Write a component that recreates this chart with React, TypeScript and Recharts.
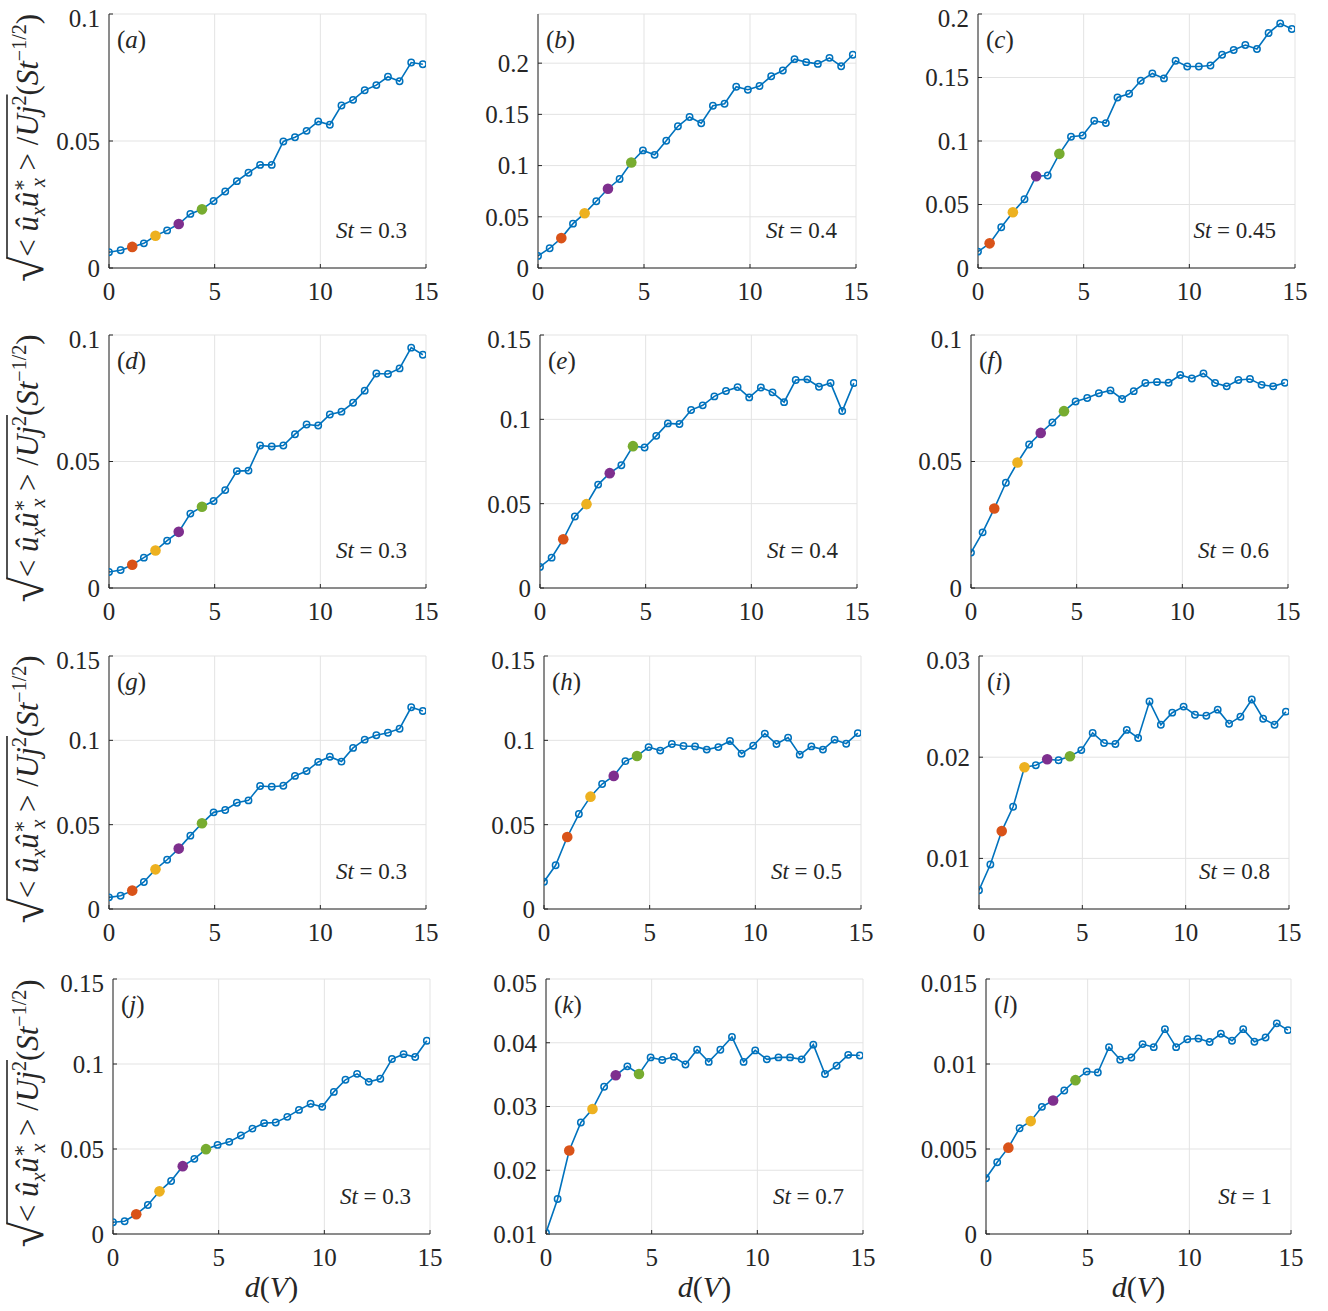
import React, { useLayoutEffect, useRef, useState } from 'react';
import { LineChart, Line, XAxis, YAxis, CartesianGrid } from 'recharts';

// d(V) positions, shared by every panel
const dV = [0, 0.55, 1.1, 1.65, 2.2, 2.75, 3.3, 3.85, 4.4, 4.95, 5.5, 6.05, 6.6, 7.15, 7.7, 8.25, 8.8, 9.35, 9.9, 10.45, 11, 11.55, 12.1, 12.65, 13.2, 13.75, 14.3, 14.85];

const aVals = [0.0062, 0.0070, 0.0083, 0.0097, 0.0127, 0.0148, 0.0173, 0.0213, 0.0231, 0.0264, 0.0301, 0.0342, 0.0375, 0.0406, 0.0406, 0.0498, 0.0515, 0.0540, 0.0577, 0.0564, 0.0640, 0.0662, 0.0700, 0.0720, 0.0753, 0.0735, 0.0809, 0.0802];
const bVals = [0.0118, 0.0193, 0.0292, 0.0433, 0.0534, 0.0652, 0.0774, 0.0869, 0.1030, 0.1148, 0.1105, 0.1243, 0.1384, 0.1475, 0.1413, 0.1584, 0.1603, 0.1770, 0.1741, 0.1777, 0.1872, 0.1928, 0.2039, 0.2010, 0.1993, 0.2052, 0.1970, 0.2082];
const cVals = [0.0129, 0.0194, 0.0321, 0.0439, 0.0541, 0.0723, 0.0728, 0.0899, 0.1033, 0.1043, 0.1159, 0.1141, 0.1343, 0.1372, 0.1474, 0.1532, 0.1493, 0.1632, 0.1587, 0.1587, 0.1595, 0.1679, 0.1716, 0.1756, 0.1724, 0.1850, 0.1926, 0.1882];
const dVals = [0.0063, 0.0071, 0.0092, 0.0120, 0.0148, 0.0187, 0.0222, 0.0294, 0.0321, 0.0344, 0.0387, 0.0462, 0.0464, 0.0563, 0.0559, 0.0563, 0.0608, 0.0646, 0.0642, 0.0686, 0.0697, 0.0732, 0.0780, 0.0848, 0.0846, 0.0868, 0.0950, 0.0922];
const eVals = [0.0125, 0.0180, 0.0289, 0.0424, 0.0497, 0.0613, 0.0681, 0.0728, 0.0841, 0.0833, 0.0902, 0.0976, 0.0972, 0.1055, 0.1083, 0.1136, 0.1168, 0.1191, 0.1130, 0.1189, 0.1160, 0.1102, 0.1233, 0.1237, 0.1193, 0.1215, 0.1049, 0.1215];
const fVals = [0.0140, 0.0220, 0.0314, 0.0416, 0.0496, 0.0567, 0.0613, 0.0654, 0.0699, 0.0737, 0.0751, 0.0770, 0.0781, 0.0747, 0.0778, 0.0810, 0.0814, 0.0811, 0.0842, 0.0828, 0.0848, 0.0810, 0.0797, 0.0822, 0.0826, 0.0803, 0.0797, 0.0811];
const gVals = [0.0069, 0.0079, 0.0109, 0.0160, 0.0235, 0.0292, 0.0358, 0.0435, 0.0508, 0.0573, 0.0587, 0.0630, 0.0644, 0.0729, 0.0725, 0.0731, 0.0789, 0.0818, 0.0872, 0.0903, 0.0874, 0.0955, 0.1004, 0.1030, 0.1045, 0.1069, 0.1196, 0.1174];
const hVals = [0.0162, 0.0259, 0.0427, 0.0563, 0.0666, 0.0741, 0.0789, 0.0877, 0.0907, 0.0960, 0.0939, 0.0978, 0.0966, 0.0964, 0.0945, 0.0960, 0.0996, 0.0921, 0.0968, 0.1040, 0.0978, 0.1016, 0.0915, 0.0964, 0.0945, 0.1004, 0.0980, 0.1043];
const iVals = [0.00686, 0.00939, 0.0127, 0.0151, 0.0190, 0.0192, 0.0198, 0.0197, 0.0201, 0.0207, 0.0224, 0.0214, 0.0213, 0.0227, 0.0219, 0.0255, 0.0232, 0.0244, 0.0250, 0.0242, 0.0241, 0.0247, 0.0233, 0.0240, 0.0257, 0.0238, 0.0232, 0.0245];
const jVals = [0.0069, 0.0075, 0.0116, 0.0171, 0.0251, 0.0312, 0.0399, 0.0442, 0.0499, 0.0524, 0.0542, 0.0579, 0.0620, 0.0652, 0.0656, 0.0689, 0.0730, 0.0766, 0.0748, 0.0836, 0.0907, 0.0942, 0.0895, 0.0913, 0.1029, 0.1058, 0.1041, 0.1137];
const kVals = [0.0102, 0.0155, 0.0231, 0.0275, 0.0296, 0.0331, 0.0349, 0.0363, 0.0351, 0.0377, 0.0373, 0.0378, 0.0366, 0.0389, 0.0370, 0.0389, 0.0409, 0.0370, 0.0388, 0.0374, 0.0377, 0.0377, 0.0374, 0.0397, 0.0351, 0.0364, 0.0381, 0.0380];
const lVals = [0.00328, 0.00422, 0.00508, 0.00622, 0.00664, 0.00748, 0.00785, 0.00844, 0.00905, 0.00956, 0.00950, 0.01099, 0.01025, 0.01038, 0.01117, 0.01099, 0.01205, 0.01099, 0.01146, 0.01150, 0.01129, 0.01178, 0.01137, 0.01205, 0.01131, 0.01156, 0.01239, 0.01199];

const xTicks = [0, 5, 10, 15];
const ticks010 = [0, 0.05, 0.1];
const ticks015 = [0, 0.05, 0.1, 0.15];
const ticks020 = [0, 0.05, 0.1, 0.15, 0.2];
const ticksI = [0.01, 0.02, 0.03];
const ticksK = [0.01, 0.02, 0.03, 0.04, 0.05];
const ticksL = [0, 0.005, 0.01, 0.015];

const stLabels = ['0.3', '0.4', '0.45', '0.3', '0.4', '0.6', '0.3', '0.5', '0.8', '0.3', '0.7', '1'];
const panelNames = ['a', 'b', 'c', 'd', 'e', 'f', 'g', 'h', 'i', 'j', 'k', 'l'];
// indices of the four coloured points
const hlStd = [2, 4, 6, 8];
const hlC = [1, 3, 5, 7];

const BLUE = '#0072BD';
const HL_COLORS = ['#D95319', '#EDB120', '#7E2F8E', '#77AC30'];
const TXT = '#262626';
const SERIF = '"Liberation Serif", "DejaVu Serif", serif';

// plot area [left, top, width, height] of each panel in page pixels
const boxes = [
  [109, 14, 317, 254], [538, 14, 318, 254], [978, 14, 317, 254],
  [109, 335, 317, 253], [540, 335, 317, 253], [971, 335, 317, 253],
  [109, 656, 317, 253], [544, 656, 317, 253], [979, 656, 310, 253],
  [113, 979, 317, 255], [546, 979, 317, 255], [986, 979, 305, 255],
];

const panels = [
  { values: aVals, domain: [0, 0.1], ticks: ticks010, hl: hlStd },
  { values: bVals, domain: [0, 0.248], ticks: ticks020, hl: hlStd },
  { values: cVals, domain: [0, 0.2], ticks: ticks020, hl: hlC },
  { values: dVals, domain: [0, 0.1], ticks: ticks010, hl: hlStd },
  { values: eVals, domain: [0, 0.15], ticks: ticks015, hl: hlStd },
  { values: fVals, domain: [0, 0.1], ticks: ticks010, hl: hlStd },
  { values: gVals, domain: [0, 0.15], ticks: ticks015, hl: hlStd },
  { values: hVals, domain: [0, 0.15], ticks: ticks015, hl: hlStd },
  { values: iVals, domain: [0.005, 0.03], ticks: ticksI, hl: hlStd },
  { values: jVals, domain: [0, 0.15], ticks: ticks015, hl: hlStd },
  { values: kVals, domain: [0.01, 0.05], ticks: ticksK, hl: hlStd },
  { values: lVals, domain: [0, 0.015], ticks: ticksL, hl: hlStd },
];

const YW = 80;
const XH = 40;
const MT = 10;
const MR = 20;

const makeDot = (hl: number[]) => (props: any) => {
  const { cx, cy, index } = props;
  const k = hl.indexOf(index);
  if (k >= 0) {
    return <circle key={`d${index}`} cx={cx} cy={cy} r={5.3} fill={HL_COLORS[k]} stroke="none" />;
  }
  return <circle key={`d${index}`} cx={cx} cy={cy} r={3.2} fill="none" stroke={BLUE} strokeWidth={1.5} />;
};

const tickStyle = { fontFamily: SERIF, fontSize: 25, fill: TXT };

const Panel = ({ idx }: { idx: number }) => {
  const p = panels[idx];
  const [left, top, w, h] = boxes[idx];
  const data = dV.map((x, i) => ({ x, y: p.values[i] }));
  return (
    <div style={{ position: 'absolute', left: left - YW, top: top - MT }}>
      <LineChart width={w + YW + MR} height={h + MT + XH} data={data} margin={{ top: MT, right: MR, left: 0, bottom: 0 }}>
        <CartesianGrid stroke="#e3e3e3" strokeWidth={1} />
        <XAxis
          dataKey="x"
          type="number"
          domain={[0, 15]}
          ticks={xTicks}
          height={XH}
          tick={tickStyle}
          tickSize={-4}
          tickMargin={18}
          stroke={TXT}
          allowDataOverflow
        />
        <XAxis
          xAxisId="top"
          dataKey="x"
          type="number"
          orientation="top"
          domain={[0, 15]}
          ticks={xTicks}
          height={0}
          tick={false}
          tickSize={-4}
          stroke={TXT}
        />
        <YAxis
          type="number"
          domain={p.domain}
          ticks={p.ticks}
          width={YW}
          tick={tickStyle}
          tickFormatter={(v: number) => String(v)}
          tickSize={-4}
          tickMargin={13}
          stroke={TXT}
          allowDataOverflow
        />
        <YAxis
          yAxisId="right"
          type="number"
          orientation="right"
          domain={p.domain}
          ticks={p.ticks}
          width={0}
          tick={false}
          tickSize={-4}
          stroke={TXT}
        />
        <Line
          dataKey="y"
          stroke={BLUE}
          strokeWidth={1.6}
          dot={makeDot(p.hl)}
          activeDot={false}
          isAnimationActive={false}
        />
      </LineChart>
    </div>
  );
};

// radicand runs from character 1 ("<") to character 14 (the "2" of Uj^2)
const YLabel = ({ cy }: { cy: number }) => {
  const ref = useRef<SVGTextElement>(null);
  const [bar, setBar] = useState<[number, number] | null>(null);
  useLayoutEffect(() => {
    const el = ref.current;
    if (!el) return;
    try {
      const a = el.getEndPositionOfChar(0).x - 2;
      const b = el.getEndPositionOfChar(14).x + 1;
      setBar([a, b]);
    } catch (e) {
      setBar(null);
    }
  }, []);
  const sub = { fontSize: 20 };
  return (
    <g transform={`translate(38, ${cy}) rotate(-90)`}>
      <text ref={ref} textAnchor="middle" fontFamily={SERIF} fontSize={31} fill={TXT}>
        <tspan fontSize={46} dy={5}>√</tspan>
        <tspan dy={-5}>{'< '}</tspan>
        <tspan fontStyle="italic">û</tspan>
        <tspan {...sub} fontStyle="italic" dy={7}>x</tspan>
        <tspan fontStyle="italic" dy={-7}>û</tspan>
        <tspan {...sub} dy={-12}>∗</tspan>
        <tspan {...sub} fontStyle="italic" dx={-9} dy={19}>x</tspan>
        <tspan dy={-7}>{' > /'}</tspan>
        <tspan fontStyle="italic">Uj</tspan>
        <tspan {...sub} dy={-12}>2</tspan>
        <tspan dy={12}>(</tspan>
        <tspan fontStyle="italic">St</tspan>
        <tspan {...sub} dy={-12}>−1/2</tspan>
        <tspan dy={12}>)</tspan>
      </text>
      {bar && <line x1={bar[0]} x2={bar[1]} y1={-31} y2={-31} stroke={TXT} strokeWidth={1.6} />}
    </g>
  );
};

const Overlay = () => (
  <svg width={1328} height={1311} style={{ position: 'absolute', left: 0, top: 0, pointerEvents: 'none' }}>
    {boxes.map(([l, t, w, h], i) => (
      <g key={i} fontFamily={SERIF} fill={TXT}>
        <text x={l + 8} y={t + 34} fontSize={25}>
          (<tspan fontStyle="italic">{panelNames[i]}</tspan>)
        </text>
        <text x={l + w - 19} y={t + h - 30} fontSize={23} textAnchor="end">
          <tspan fontStyle="italic">St</tspan>
          {` = ${stLabels[i]}`}
        </text>
      </g>
    ))}
    {[0, 3, 6, 9].map((i) => (
      <YLabel key={i} cy={boxes[i][1] + boxes[i][3] / 2 + 7} />
    ))}
    {[9, 10, 11].map((i) => (
      <text key={i} x={boxes[i][0] + boxes[i][2] / 2} y={1297} textAnchor="middle" fontFamily={SERIF} fontSize={30} fill={TXT}>
        <tspan fontStyle="italic">d</tspan>(<tspan fontStyle="italic">V</tspan>)
      </text>
    ))}
  </svg>
);

export default function App() {
  return (
    <div style={{ position: 'absolute', left: 0, top: 0, width: 1328, height: 1311, background: '#fff' }}>
      {panels.map((_, i) => (
        <Panel key={i} idx={i} />
      ))}
      <Overlay />
    </div>
  );
}
